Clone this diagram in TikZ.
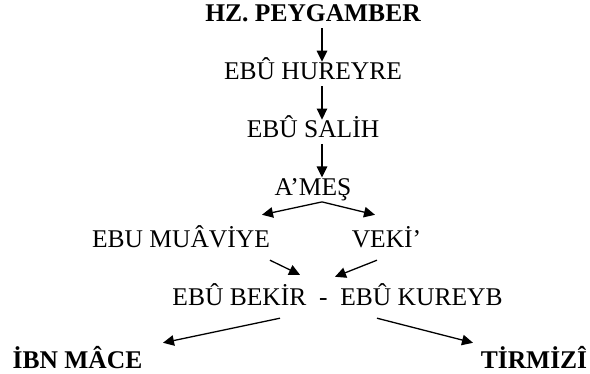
\documentclass[tikz,border=0pt]{standalone}
\usepackage{fontspec}
\setmainfont{Liberation Serif}
\usetikzlibrary{arrows.meta, positioning}

\begin{document}
\begin{tikzpicture}[
  x=1pt, y=1pt,
  font=\fontsize{25.5}{30}\selectfont,
  narrator/.style={inner xsep=0pt, inner ysep=1pt, text height=17pt,
                   text depth=0pt},
  collector/.style={narrator, font=\fontsize{25.5}{30}\selectfont\bfseries},
  link/.style={-{Triangle[length=11pt,width=10.5pt]}, line width=1.3pt},
  down/.style={link, shorten <=5pt},
]
\useasboundingbox (0,0) rectangle (590,-374);

% ── chain from the top ───────────────────────────────────────────────────
\node[collector, anchor=base]    (peygamber) at (313,-22) {HZ. PEYGAMBER};
\node[narrator, below=38.5pt of peygamber] (hureyre) {EBÛ HUREYRE};
\node[narrator, below=38.5pt of hureyre]   (salih)   {EBÛ SALİH};
\node[narrator, below=38.5pt of salih]     (ames)    {A’MEŞ};

\draw[down] ([xshift=9pt]peygamber.south) -- ([xshift=9pt]hureyre.north);
\draw[down] ([xshift=9pt]hureyre.south)   -- ([xshift=9pt]salih.north);
\draw[down] ([xshift=9pt]salih.south)     -- ([xshift=9pt]ames.north);

% ── two students of A'mes ────────────────────────────────────────────────
\node[narrator, anchor=base] (muaviye) at (181,-248)   {EBU MUÂVİYE};
\node[narrator, anchor=base] (veki)    at (386.5,-248) {VEKİ’};

\coordinate (fork) at ([xshift=9pt,yshift=-5pt]ames.south);
\draw[link] (fork) -- ([xshift=81pt,yshift=15pt]muaviye.north);
\draw[link] (fork) -- ([xshift=-11.5pt,yshift=15pt]veki.north);

% ── common link and the two collections ──────────────────────────────────
\node[narrator, anchor=base] (bekir) at (337.5,-306)
  {EBÛ BEKİR\ \ -\ \ EBÛ KUREYB};

\draw[link] ([xshift=89pt,yshift=-11pt]muaviye.south)
  -- ([xshift=-37.5pt,yshift=13pt]bekir.north);
\draw[link] ([xshift=-9.5pt,yshift=-11pt]veki.south)
  -- ([xshift=-2.5pt,yshift=11pt]bekir.north);

\node[collector, anchor=base] (ibnmace) at (77.5,-369) {İBN MÂCE};
\node[collector, anchor=base] (tirmizi) at (534,-369)  {TİRMİZÎ};

\draw[link] ([xshift=-57.5pt,yshift=-11pt]bekir.south)
  -- ([xshift=85.5pt,yshift=8pt]ibnmace.north);
\draw[link] ([xshift=39.5pt,yshift=-11pt]bekir.south)
  -- ([xshift=-61pt,yshift=8pt]tirmizi.north);

\end{tikzpicture}
\end{document}
